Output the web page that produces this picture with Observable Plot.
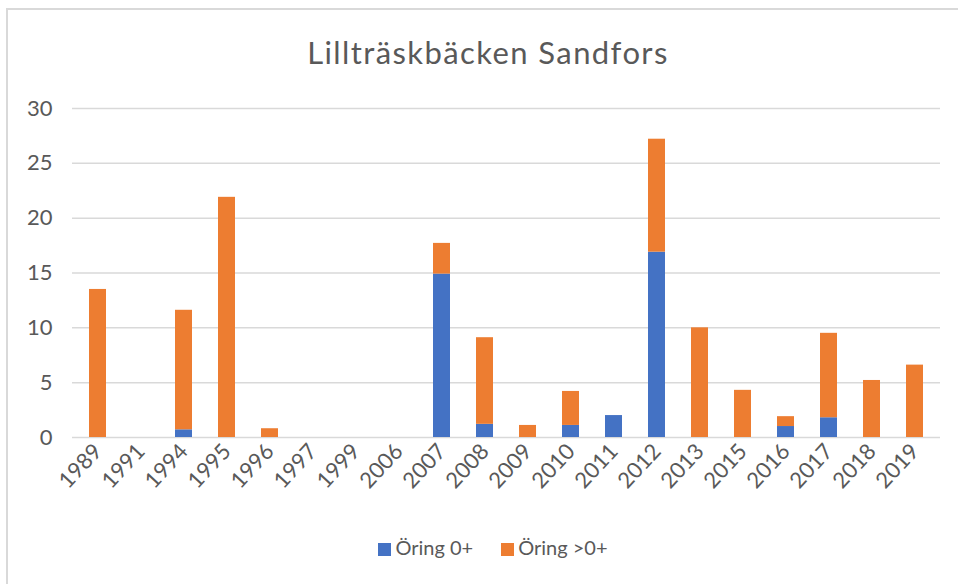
<!DOCTYPE html>
<html>
<head>
<meta charset="utf-8">
<script src="https://cdn.jsdelivr.net/npm/d3@7"></script>
<script src="https://cdn.jsdelivr.net/npm/@observablehq/plot@0.6"></script>
<style>
  html, body { margin: 0; padding: 0; background: #fff; }
  body { width: 958px; height: 584px; position: relative; overflow: hidden; font-family: Lato, "Open Sans", sans-serif; }
  #frame { position: absolute; left: 6px; top: 8px; width: 1000px; height: 700px; border-left: 2px solid #d9d9d9; border-top: 2px solid #d9d9d9; box-sizing: border-box; }
  #title { position: absolute; left: 0; width: 976px; top: 33px; text-align: center; font-size: 31px; letter-spacing: 1.4px; color: #595959; }
  #chart { position: absolute; left: 0; top: 80px; }
  #legend { position: absolute; left: 0; width: 986px; top: 535px; text-align: center; font-size: 20px; color: #595959; }
  .sw { display: inline-block; width: 13px; height: 13px; margin-right: 4px; vertical-align: -1px; }
  .item { margin: 0 14px; }
</style>
</head>
<body>
<div id="frame"></div>
<div id="title">Lillträskbäcken Sandfors</div>
<div id="chart"></div>
<div id="legend"></div>
<script>
const years = ["1989","1991","1994","1995","1996","1997","1999","2006","2007","2008","2009","2010","2011","2012","2013","2015","2016","2017","2018","2019"];
const oring0 =    [0,   0, 0.7,  0,   0,   0, 0, 0, 14.9, 1.2, 0,   1.1, 2.0, 16.9, 0,    0,   1.0, 1.8, 0,   0];
const oringOver = [13.5,0, 10.9, 21.9, 0.8, 0, 0, 0, 2.8,  7.9, 1.1, 3.1, 0,   10.3, 10.0, 4.3, 0.9, 7.7, 5.2, 6.6];
const seriesNames = ["Öring 0+", "Öring >0+"];
const seriesColors = ["#4472C4", "#ED7D31"];
const yTicks = [0, 5, 10, 15, 20, 25, 30];

const data = [];
years.forEach((y, i) => {
  data.push({year: y, series: seriesNames[0], value: oring0[i]});
  data.push({year: y, series: seriesNames[1], value: oringOver[i]});
});

const plot = Plot.plot({
  width: 958,
  height: 420,
  marginLeft: 72,
  marginRight: 18,
  marginTop: 28,
  marginBottom: 63,
  style: { fontFamily: "Lato, 'Open Sans', sans-serif", fontSize: "20px", color: "#595959", background: "transparent", overflow: "visible" },
  x: { domain: years, paddingInner: 0.6, paddingOuter: 0.3, label: null },
  y: { domain: [0, 30], label: null, axis: null },
  color: { domain: seriesNames, range: seriesColors },
  marks: [
    Plot.ruleY(yTicks, { stroke: "#d9d9d9", strokeWidth: 1.5 }),
    Plot.barY(data, { x: "year", y: "value", fill: "series", order: seriesNames }),
    Plot.text(yTicks, { y: d => d, text: d => String(d), frameAnchor: "left", textAnchor: "end", dx: -20, fontSize: 22, fill: "#595959" }),
    Plot.axisX({ tickSize: 0, tickPadding: 10, tickRotate: -47, fontSize: 22, fill: "#595959", label: null })
  ]
});
document.getElementById("chart").appendChild(plot);

const legend = document.getElementById("legend");
seriesNames.forEach((n, i) => {
  const s = document.createElement("span");
  s.className = "item";
  s.innerHTML = `<span class="sw" style="background:${seriesColors[i]}"></span>${n}`;
  legend.appendChild(s);
});
</script>
</body>
</html>
